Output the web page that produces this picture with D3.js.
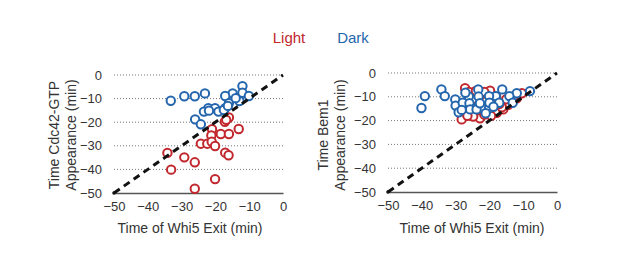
<!DOCTYPE html>
<html><head><meta charset="utf-8">
<script src="https://cdn.jsdelivr.net/npm/d3@7"></script>
<style>body{margin:0;background:#fff}svg{display:block;font-family:"Liberation Sans",Arial,sans-serif}</style>
</head><body><svg id="c" width="617" height="266"></svg>
<script>
const xTicks=[-50,-40,-30,-20,-10,0];
const yTicks=[0,-10,-20,-30,-40,-50];
const seriesNames=["Light","Dark"];
const seriesColors=["#c1272d","#2466ad"];
const leftLight=[[-16,-18],[-17.2,-19.8],[-16.8,-19],[-13.1,-22.9],[-21,-23],[-21.2,-25.6],[-18.4,-25],[-16,-25],[-24.3,-29.1],[-22.4,-29.1],[-21.1,-28.3],[-20.1,-30.1],[-17.1,-32.9],[-16.1,-34],[-34.2,-33],[-33.1,-40.1],[-29.2,-34.9],[-26.1,-37],[-20.1,-44.1],[-26.1,-48.2]];
const leftDark=[[-33.2,-10.9],[-29.2,-9],[-26.1,-9],[-23.1,-7.8],[-12,-4.7],[-12,-7.5],[-14.9,-7.8],[-17.1,-8.9],[-10.1,-8.9],[-12.9,-11],[-16,-11.9],[-17.1,-14.1],[-22.1,-14.1],[-20.1,-14.1],[-23.4,-15.5],[-21.9,-15.1],[-19.1,-15.5],[-17.5,-14.8],[-16.3,-13.1],[-26,-18.8],[-24.3,-20.9],[-14,-9.8]];
const rightLight=[[-27.2,-6.4],[-26,-8],[-24,-7.5],[-19.8,-7.4],[-21.5,-8],[-28.2,-19.5],[-22.8,-19],[-17.8,-16.7],[-15.9,-15.3],[-14.4,-13.4],[-11.9,-10.6],[-10.4,-8.5],[-26.2,-16.9],[-24.8,-18.3],[-21,-12],[-18,-10],[-23,-13.5],[-16.3,-14.4],[-25,-11],[-19.5,-18],[-26.5,-18],[-21.5,-17.5],[-13.2,-11.8],[-12.5,-9.5],[-15,-11],[-17,-13]];
const rightDark=[[-40.1,-14.7],[-39.1,-9.7],[-34.2,-6.9],[-33.2,-9.7],[-30.1,-11.1],[-30,-13.7],[-29.1,-16.5],[-23.3,-6.9],[-16.2,-6.9],[-8,-7.6],[-11.9,-8.5],[-14.1,-9.7],[-13.1,-12.5],[-18.1,-9.7],[-20.1,-9.7],[-23.2,-9.9],[-26.1,-9.9],[-27.1,-8.3],[-27.9,-12.5],[-25.9,-12.7],[-24.1,-14.8],[-22.1,-14.8],[-20.1,-14.8],[-20,-12.5],[-17.1,-12.5],[-21.1,-16.9],[-28.2,-15.5],[-25.7,-15.3],[-23.8,-15.3],[-18.8,-14.2],[-22.8,-12.7]];
const yTitles=[["Time Cdc42-GTP","Appearance (min)"],["Time Bem1","Appearance (min)"]];
const xTitle="Time of Whi5 Exit (min)";

const svg=d3.select("#c");
const panels=[
 {x0:114,x1:283,y0:75,y1:193,light:leftLight,dark:leftDark,titles:yTitles[0],tx:[59,76],xt:190},
 {x0:388,x1:557,y0:73,y1:192,light:rightLight,dark:rightDark,titles:yTitles[1],tx:[328,345],xt:472}
];
panels.forEach(p=>{
 const x=d3.scaleLinear().domain([-50,0]).range([p.x0,p.x1]);
 const y=d3.scaleLinear().domain([-50,0]).range([p.y1,p.y0]);
 const g=svg.append("g");
 g.selectAll(".grid").data(yTicks.filter(t=>t>-50)).join("line")
  .attr("x1",p.x0).attr("x2",p.x1).attr("y1",d=>y(d)).attr("y2",d=>y(d))
  .attr("stroke","#777").attr("stroke-width",1).attr("stroke-dasharray","1,2");
 const ya=d3.axisLeft(y).tickValues(yTicks).tickSize(0).tickPadding(12);
 const yg=g.append("g").attr("transform",`translate(${p.x0},0)`).call(ya);
 yg.select(".domain").remove();
 yg.selectAll("text").attr("font-size",13).attr("fill","#333").attr("font-family","Liberation Sans, Arial, sans-serif");
 const xa=d3.axisBottom(x).tickValues(xTicks).tickSize(0).tickPadding(9);
 const xg=g.append("g").attr("transform",`translate(0,${p.y1})`).call(xa);
 xg.select(".domain").attr("stroke","#555").attr("stroke-width",1.5);
 xg.selectAll("text").attr("font-size",13).attr("fill","#333").attr("font-family","Liberation Sans, Arial, sans-serif");
 [[p.light,seriesColors[0]],[p.dark,seriesColors[1]]].forEach(([data,col])=>{
  g.selectAll(null).data(data).join("circle")
   .attr("cx",d=>x(d[0])).attr("cy",d=>y(d[1])).attr("r",4.2)
   .attr("fill","#fff").attr("stroke",col).attr("stroke-width",2);
 });
 g.append("line").attr("x1",x(-50)).attr("y1",y(-50)).attr("x2",x(0)).attr("y2",y(0))
  .attr("stroke","#111").attr("stroke-width",3).attr("stroke-dasharray","7,5");
 g.append("circle").attr("cx",x(-50)).attr("cy",y(-50)).attr("r",1.8).attr("fill","#111");
 g.append("text").attr("x",p.xt).attr("y",233).attr("text-anchor","middle")
  .attr("font-size",14).attr("fill","#333").text(xTitle);
 p.titles.forEach((t,i)=>{
  g.append("text").attr("transform",`translate(${p.tx[i]},135) rotate(-90)`).attr("text-anchor","middle")
   .attr("font-size",14).attr("fill","#333").text(t);
 });
});
svg.append("text").attr("x",289).attr("y",43).attr("text-anchor","middle").attr("font-size",15).attr("fill",seriesColors[0]).text(seriesNames[0]);
svg.append("text").attr("x",353).attr("y",43).attr("text-anchor","middle").attr("font-size",15).attr("fill",seriesColors[1]).text(seriesNames[1]);
</script></body></html>
